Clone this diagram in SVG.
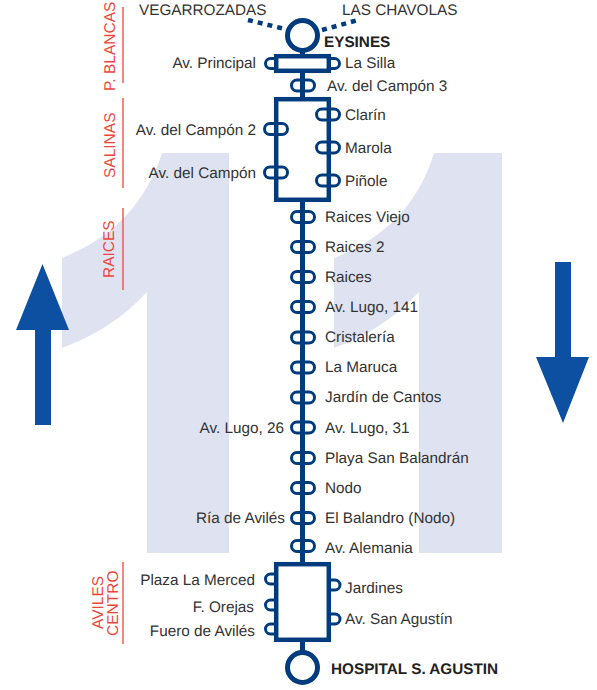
<svg xmlns="http://www.w3.org/2000/svg" width="597" height="690" viewBox="0 0 597 690">
<style>
.bg{fill:#dfe3f1}
.ar{fill:#0d4fa0}
.ln{fill:none;stroke:#003c7d;stroke-width:5}
.box{fill:#fff;stroke:#003c7d;stroke-width:4.5}
.stop{fill:none;stroke:#003c7d;stroke-width:3}
.t{font-family:"Liberation Sans",Arial,sans-serif;font-size:15.3px;fill:#333;text-rendering:geometricPrecision}
.e{text-anchor:end}
.b{font-weight:bold;fill:#222}
.r{font-family:"Liberation Sans",Arial,sans-serif;font-size:15.5px;fill:#f04438;text-rendering:geometricPrecision}
.rl{stroke:#f04438;stroke-width:1.3}
</style>
<g id="background">
<path class="bg" d="M162 153H229V553H147V292C123 318 96 335 62 348V258C112 238 145 205 162 153Z"/>
<path class="bg" d="M434 153H502V553H419V292C395 318 368 335 334 348V258C385 238 418 205 434 153Z"/>
</g>
<g id="direction-arrows">
<path class="ar" d="M42.500 264L69 330H51V425H35V330H16Z"/>
<path class="ar" d="M555 262H571V357H589L563 423L536 357H555Z"/>
</g>
<g id="zones">
<g id="zone-pblancas"><line class="rl" x1="123" y1="7" x2="123" y2="83"/><text class="r" transform="translate(115 91) rotate(-90)">P. BLANCAS</text></g>
<g id="zone-salinas"><line class="rl" x1="123" y1="98" x2="123" y2="188"/><text class="r" transform="translate(115 178) rotate(-90)">SALINAS</text></g>
<g id="zone-raices"><line class="rl" x1="123" y1="208" x2="123" y2="290"/><text class="r" transform="translate(114 278) rotate(-90)">RAICES</text></g>
<g id="zone-aviles"><line class="rl" x1="123" y1="562" x2="123" y2="644"/><text class="r" transform="translate(103 629) rotate(-90)">AVILES</text><text class="r" transform="translate(118 636) rotate(-90)">CENTRO</text></g>
</g>
<g id="connectors">
<line class="ln" x1="302.500" y1="36" x2="302.500" y2="667"/>
<line x1="248" y1="20" x2="285" y2="29" stroke="#003c7d" stroke-width="4.500" stroke-dasharray="5 5"/>
<line x1="322" y1="30" x2="358" y2="20" stroke="#003c7d" stroke-width="4.500" stroke-dasharray="5 5"/>
</g>
<g id="box-pblancas"><rect class="box" x="276.200" y="56.200" width="52.600" height="14.600"/></g>
<g id="box-salinas"><rect class="box" x="276.200" y="99.200" width="52.600" height="100.600"/></g>
<g id="box-centro"><rect class="box" x="276.200" y="564.200" width="52.600" height="75.600"/></g>
<g id="eysines"><circle cx="302.500" cy="35.500" r="15" fill="#fff" stroke="#003c7d" stroke-width="5"/><text class="t b" x="324" y="47">EYSINES</text></g>
<g id="hospital"><circle cx="302.500" cy="667.500" r="15" fill="#fff" stroke="#003c7d" stroke-width="5"/><text class="t b" x="331" y="674">HOSPITAL S. AGUSTIN</text></g>
<g id="vegarrozadas"><text class="t" x="139" y="15">VEGARROZADAS</text></g>
<g id="las-chavolas"><text class="t" x="342" y="15">LAS CHAVOLAS</text></g>
<g id="av-principal"><path class="stop" d="M274 58.500H270.500a5 5 0 0 0 0 10H274"/><text class="t e" x="256" y="68">Av. Principal</text></g>
<g id="la-silla"><path class="stop" d="M331 58.500H334.500a5 5 0 0 1 0 10H331"/><text class="t" x="345" y="68">La Silla</text></g>
<g id="av-campon-3"><rect class="stop" x="291.500" y="80" width="23" height="11" rx="5.500"/><text class="t" x="327" y="91">Av. del Campón 3</text></g>
<g id="campon-2"><rect class="stop" x="264.500" y="123.500" width="23" height="11" rx="5.500"/><text class="t e" x="256" y="135">Av. del Campón 2</text></g>
<g id="campon"><rect class="stop" x="264.500" y="167" width="23" height="11" rx="5.500"/><text class="t e" x="256" y="178">Av. del Campón</text></g>
<g id="clarin"><rect class="stop" x="316.500" y="109" width="23" height="11" rx="5.500"/><text class="t" x="345" y="120">Clarín</text></g>
<g id="marola"><rect class="stop" x="316.500" y="142" width="23" height="11" rx="5.500"/><text class="t" x="345" y="153">Marola</text></g>
<g id="pinole"><rect class="stop" x="316.500" y="175" width="23" height="11" rx="5.500"/><text class="t" x="345" y="186">Piñole</text></g>
<g id="raices-viejo"><rect class="stop" x="291.500" y="211.500" width="23" height="11" rx="5.500"/><text class="t" x="325" y="222">Raices Viejo</text></g>
<g id="raices-2"><rect class="stop" x="291.500" y="241.500" width="23" height="11" rx="5.500"/><text class="t" x="325" y="252">Raices 2</text></g>
<g id="raices"><rect class="stop" x="291.500" y="271.500" width="23" height="11" rx="5.500"/><text class="t" x="325" y="282">Raices</text></g>
<g id="av-lugo-141"><rect class="stop" x="291.500" y="301.500" width="23" height="11" rx="5.500"/><text class="t" x="325" y="312">Av. Lugo, 141</text></g>
<g id="cristaleria"><rect class="stop" x="291.500" y="332" width="23" height="11" rx="5.500"/><text class="t" x="325" y="342">Cristalería</text></g>
<g id="la-maruca"><rect class="stop" x="291.500" y="362" width="23" height="11" rx="5.500"/><text class="t" x="325" y="372">La Maruca</text></g>
<g id="jardin-cantos"><rect class="stop" x="291.500" y="392" width="23" height="11" rx="5.500"/><text class="t" x="325" y="402">Jardín de Cantos</text></g>
<g id="av-lugo-31"><rect class="stop" x="291.500" y="422" width="23" height="11" rx="5.500"/><text class="t" x="325" y="433">Av. Lugo, 31</text><text class="t e" x="284" y="433">Av. Lugo, 26</text></g>
<g id="playa"><rect class="stop" x="291.500" y="452.500" width="23" height="11" rx="5.500"/><text class="t" x="325" y="463">Playa San Balandrán</text></g>
<g id="nodo"><rect class="stop" x="291.500" y="482.500" width="23" height="11" rx="5.500"/><text class="t" x="325" y="493">Nodo</text></g>
<g id="balandro"><rect class="stop" x="291.500" y="512.500" width="23" height="11" rx="5.500"/><text class="t" x="325" y="523">El Balandro (Nodo)</text><text class="t e" x="285" y="523">Ría de Avilés</text></g>
<g id="alemania"><rect class="stop" x="291.500" y="540.500" width="23" height="11" rx="5.500"/><text class="t" x="325" y="553">Av. Alemania</text></g>
<g id="plaza-merced"><path class="stop" d="M274 574H270.500a5 5 0 0 0 0 10H274"/><text class="t e" x="255" y="585">Plaza La Merced</text></g>
<g id="orejas"><path class="stop" d="M274 600H270.500a5 5 0 0 0 0 10H274"/><text class="t e" x="254" y="612">F. Orejas</text></g>
<g id="fuero"><path class="stop" d="M274 624H270.500a5 5 0 0 0 0 10H274"/><text class="t e" x="255" y="636">Fuero de Avilés</text></g>
<g id="jardines"><path class="stop" d="M331 580H335a5 5 0 0 1 0 10H331"/><text class="t" x="345" y="593">Jardines</text></g>
<g id="san-agustin"><path class="stop" d="M331 614H335a5 5 0 0 1 0 10H331"/><text class="t" x="345" y="624">Av. San Agustín</text></g>
</svg>
